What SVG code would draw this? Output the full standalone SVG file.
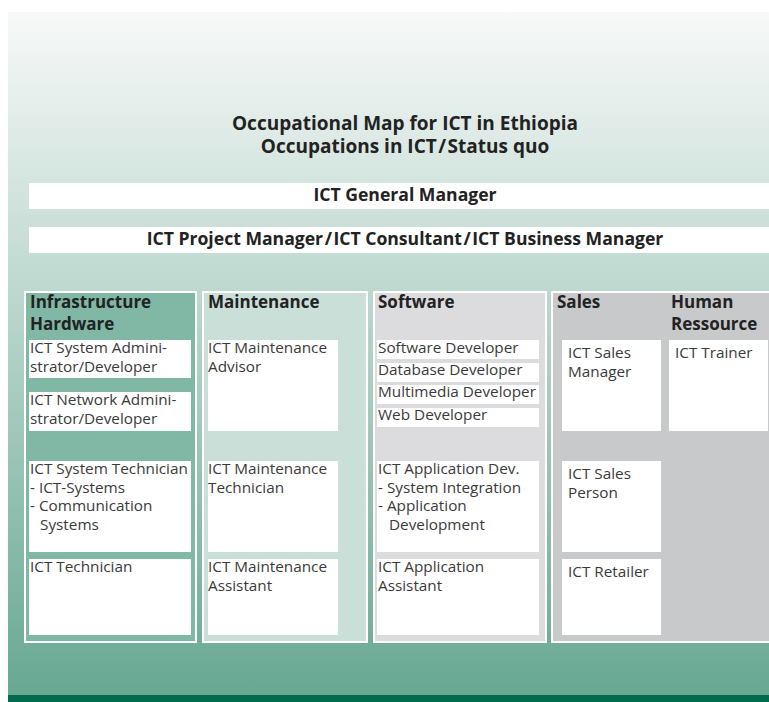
<svg xmlns="http://www.w3.org/2000/svg" width="769" height="702" viewBox="0 0 769 702">
  <defs>
    <linearGradient id="bg" x1="0" y1="12" x2="0" y2="695" gradientUnits="userSpaceOnUse">
      <stop offset="0" stop-color="#f8f9f8"/>
      <stop offset="1" stop-color="#68a893"/>
    </linearGradient>
    <style>
      .title { font-family: "Open Sans", "Liberation Sans", sans-serif; font-weight: 700; font-size: 19px; fill: #222; text-anchor: middle; }
      .bar { fill: #fff; }
      .bar-t { font-family: "Open Sans", "Liberation Sans", sans-serif; font-weight: 700; font-size: 17.6px; fill: #222; text-anchor: middle; }
      .col { stroke: #fff; stroke-width: 2; }
      .head { font-family: "Open Sans", "Liberation Sans", sans-serif; font-weight: 700; font-size: 17px; fill: #222; }
      .box { fill: #fff; }
      .t { font-family: "Open Sans", "Liberation Sans", sans-serif; font-weight: 400; font-size: 15.3px; fill: #3a3a3a; }
    </style>
  </defs>

  <!-- page background -->
  <rect x="8" y="12" width="761" height="683" fill="url(#bg)"/>
  <rect x="8" y="695" width="761" height="7" fill="#006b4e"/>

  <!-- title -->
  <g id="title">
    <text class="title" x="405" y="130">Occupational Map for ICT in Ethiopia<tspan x="405" y="153">Occupations in ICT</tspan><tspan dx="1.5">/</tspan><tspan dx="1.5">Status quo</tspan></text>
  </g>

  <!-- management levels spanning all fields -->
  <g id="general-manager">
    <rect class="bar" x="29" y="183" width="740" height="26"/>
    <text class="bar-t" x="405" y="201">ICT General Manager</text>
  </g>
  <g id="project-manager">
    <rect class="bar" x="29" y="227" width="740" height="26"/>
    <text class="bar-t" x="405" y="245">ICT Project Manager<tspan dx="1.5">/</tspan><tspan dx="1.5">ICT Consultant</tspan><tspan dx="1.5">/</tspan><tspan dx="1.5">ICT Business Manager</tspan></text>
  </g>

  <!-- field columns -->
  <g id="col-infrastructure">
    <rect class="col" x="25" y="292" width="171" height="350" fill="#80b7a5"/>
    <text class="head" x="30" y="308">Infrastructure<tspan x="30" y="330">Hardware</tspan></text>
  </g>
  <g id="col-maintenance">
    <rect class="col" x="203" y="292" width="164" height="350" fill="#c9dfd8"/>
    <text class="head" x="208" y="308">Maintenance</text>
  </g>
  <g id="col-software">
    <rect class="col" x="374" y="292" width="172" height="350" fill="#dcdcde"/>
    <text class="head" x="378" y="308">Software</text>
  </g>
  <g id="col-sales-hr">
    <rect class="col" x="552" y="292" width="220" height="350" fill="#c8c9cb"/>
    <text class="head" x="557" y="308">Sales</text>
    <text class="head" x="671" y="308">Human<tspan x="671" y="330">Ressource</tspan></text>
  </g>

  <!-- Infrastructure / Hardware occupations -->
  <g id="sys-admin">
    <rect class="box" x="29" y="340" width="162" height="38"/>
    <text class="t" x="30" y="353">ICT System Admini-<tspan x="30" y="372">strator/Developer</tspan></text>
  </g>
  <g id="net-admin">
    <rect class="box" x="29" y="392" width="162" height="39"/>
    <text class="t" x="30" y="405">ICT Network Admini-<tspan x="30" y="424">strator/Developer</tspan></text>
  </g>
  <g id="sys-tech">
    <rect class="box" x="29" y="461" width="162" height="91"/>
    <text class="t" x="30" y="474">ICT System Technician<tspan x="30" y="493">- ICT-Systems</tspan><tspan x="30" y="511">- Communication</tspan><tspan x="40" y="530">Systems</tspan></text>
  </g>
  <g id="ict-tech">
    <rect class="box" x="29" y="559" width="162" height="76"/>
    <text class="t" x="30" y="572">ICT Technician</text>
  </g>

  <!-- Maintenance occupations -->
  <g id="maint-advisor">
    <rect class="box" x="208" y="340" width="130" height="91"/>
    <text class="t" x="208" y="353">ICT Maintenance<tspan x="208" y="372">Advisor</tspan></text>
  </g>
  <g id="maint-tech">
    <rect class="box" x="208" y="461" width="130" height="91"/>
    <text class="t" x="208" y="474">ICT Maintenance<tspan x="208" y="493">Technician</tspan></text>
  </g>
  <g id="maint-assist">
    <rect class="box" x="208" y="559" width="130" height="76"/>
    <text class="t" x="208" y="572">ICT Maintenance<tspan x="208" y="591">Assistant</tspan></text>
  </g>

  <!-- Software occupations -->
  <g id="sw-dev">
    <rect class="box" x="377" y="340" width="162" height="19"/>
    <text class="t" x="378" y="353">Software Developer</text>
  </g>
  <g id="db-dev">
    <rect class="box" x="377" y="363" width="162" height="19"/>
    <text class="t" x="378" y="375">Database Developer</text>
  </g>
  <g id="mm-dev">
    <rect class="box" x="377" y="385" width="162" height="19"/>
    <text class="t" x="378" y="397">Multimedia Developer</text>
  </g>
  <g id="web-dev">
    <rect class="box" x="377" y="408" width="162" height="19"/>
    <text class="t" x="378" y="420">Web Developer</text>
  </g>
  <g id="app-dev">
    <rect class="box" x="377" y="461" width="162" height="91"/>
    <text class="t" x="378" y="474">ICT Application Dev.<tspan x="378" y="493">- System Integration</tspan><tspan x="378" y="511">- Application</tspan><tspan x="389" y="530">Development</tspan></text>
  </g>
  <g id="app-assist">
    <rect class="box" x="377" y="559" width="162" height="76"/>
    <text class="t" x="378" y="572">ICT Application<tspan x="378" y="591">Assistant</tspan></text>
  </g>

  <!-- Sales and Human Ressource occupations -->
  <g id="sales-manager">
    <rect class="box" x="562" y="340" width="99" height="91"/>
    <text class="t" x="568" y="358">ICT Sales<tspan x="568" y="377">Manager</tspan></text>
  </g>
  <g id="trainer">
    <rect class="box" x="669" y="340" width="99" height="91"/>
    <text class="t" x="675" y="358">ICT Trainer</text>
  </g>
  <g id="sales-person">
    <rect class="box" x="562" y="461" width="99" height="91"/>
    <text class="t" x="568" y="479">ICT Sales<tspan x="568" y="498">Person</tspan></text>
  </g>
  <g id="retailer">
    <rect class="box" x="562" y="559" width="99" height="76"/>
    <text class="t" x="568" y="577">ICT Retailer</text>
  </g>

  <!-- no connectors in this chart -->
  <g id="connectors"/>
</svg>
